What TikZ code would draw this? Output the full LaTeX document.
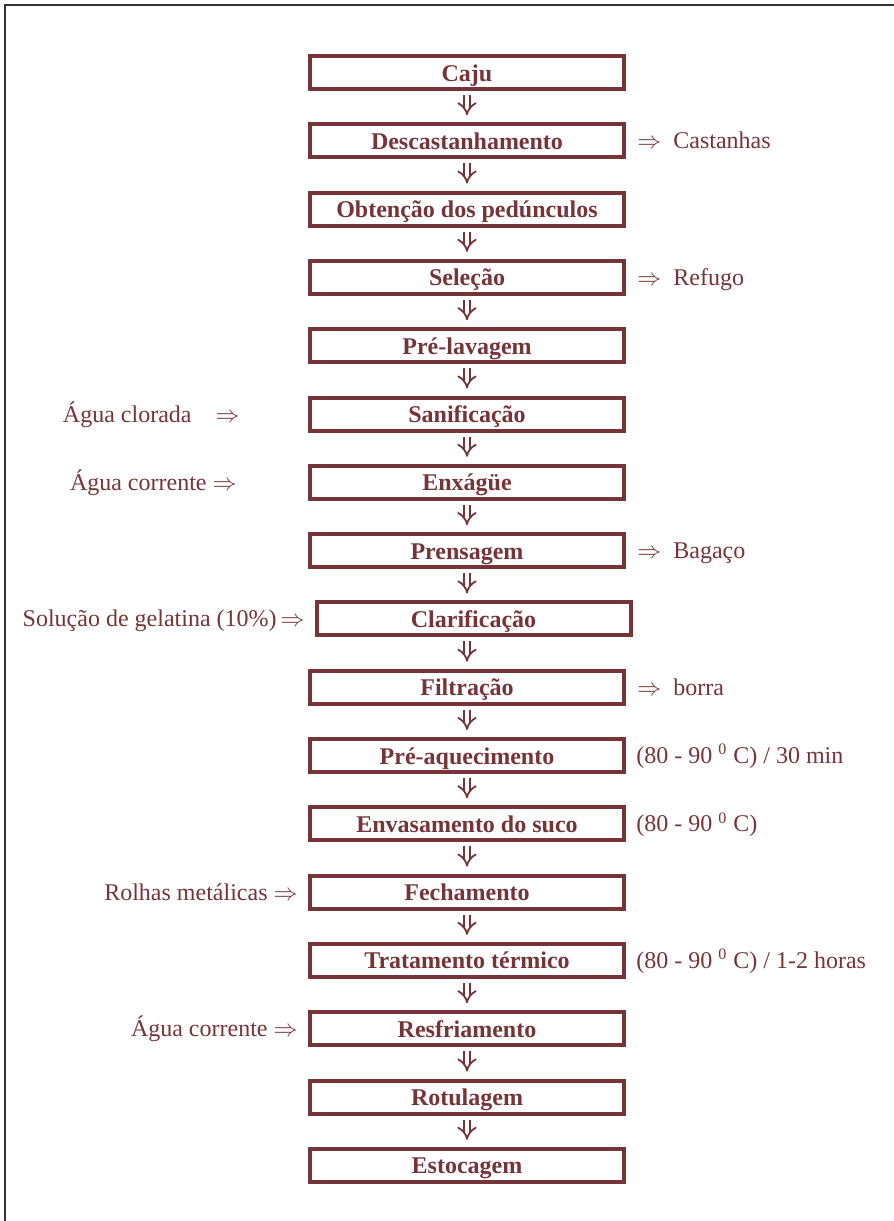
\documentclass[tikz,border=0pt]{standalone}
\usepackage{fontspec}
\setmainfont{Liberation Serif}
\usetikzlibrary{arrows.meta}

\definecolor{maroon}{RGB}{119,52,56}

\begin{document}
\begin{tikzpicture}[
	x=0.5pt,
	y=-0.5pt,
	flowbox/.style={
		rectangle,
		draw=maroon,
		line width=2pt,
		minimum width=157pt,
		minimum height=16.5pt,
		inner sep=0pt,
		text=maroon,
		font=\fontsize{12}{14}\selectfont\bfseries,
		text height=10.5pt,
		text depth=2pt
	},
	flowarrow/.style={
		draw=maroon,
		double,
		double distance=2.4pt,
		line width=0.9pt,
		-{Implies},
		shorten <=2pt,
		shorten >=3.5pt
	},
	sidetext/.style={
		inner sep=0pt,
		text=maroon,
		font=\fontsize{12}{14}\selectfont,
		text height=8.5pt,
		text depth=2.5pt,
		yshift=-1pt
	},
	framelines/.style={
		color=black!80,
		line width=1pt
	}
]

\useasboundingbox (0,0) rectangle (894,1221);

% frame, only top and left are drawn
\draw[framelines] (5,1221) -- (5,5) -- (894,5);



\def\steps{
	Caju,
	Descastanhamento,
	Obtenção dos pedúnculos,
	Seleção,
	Pré-lavagem,
	Sanificação,
	Enxágüe,
	Prensagem,
	Clarificação,
	Filtração,
	Pré-aquecimento,
	Envasamento do suco,
	Fechamento,
	Tratamento térmico,
	Resfriamento,
	Rotulagem,
	Estocagem%
}

\def\numsteps{17} % needs to be updated manually
\def\boxx{467}
\def\rowtop{72.5}
\def\rowstep{68.3}
\def\clarishift{6.5} % Clarificação sits a bit to the right



\foreach \stepname [count=\i] in \steps {
	\node[flowbox] (step\i) at ({\boxx+(\i==9)*\clarishift},{\rowtop+(\i-1)*\rowstep}) {\stepname};
}

\foreach \i [evaluate=\i as \j using int(\i+1)] in {1,...,16} {
	\draw[flowarrow] (step\i.south -| step1) -- (step\j.north -| step1);
}



% outputs on the right
\foreach \i/\outname in {2/Castanhas, 4/Refugo, 8/Bagaço, 10/borra} {
	\node[sidetext, anchor=west] (out\i) at (637,{\rowtop+(\i-1)*\rowstep}) {$\Rightarrow$\enspace\outname};
}

% conditions on the right
\foreach \i/\cond in {
	11/{(80 - 90 \textsuperscript{0} C) / 30 min},
	12/{(80 - 90 \textsuperscript{0} C)},
	14/{(80 - 90 \textsuperscript{0} C) / 1-2 horas}%
} {
	\node[sidetext, anchor=west] (cond\i) at (636,{\rowtop+(\i-1)*\rowstep}) {\cond};
}

% inputs on the left
\foreach \i/\endx/\inname in {
	6/240/{Água clorada\quad$\Rightarrow$},
	7/237/{Água corrente\ $\Rightarrow$},
	9/305/{Solução de gelatina (10\%)\,$\Rightarrow$},
	13/298/{Rolhas metálicas\ $\Rightarrow$},
	15/298/{Água corrente\ $\Rightarrow$}%
} {
	\node[sidetext, anchor=east] (in\i) at (\endx,{\rowtop+(\i-1)*\rowstep}) {\inname};
}

\end{tikzpicture}
\end{document}
